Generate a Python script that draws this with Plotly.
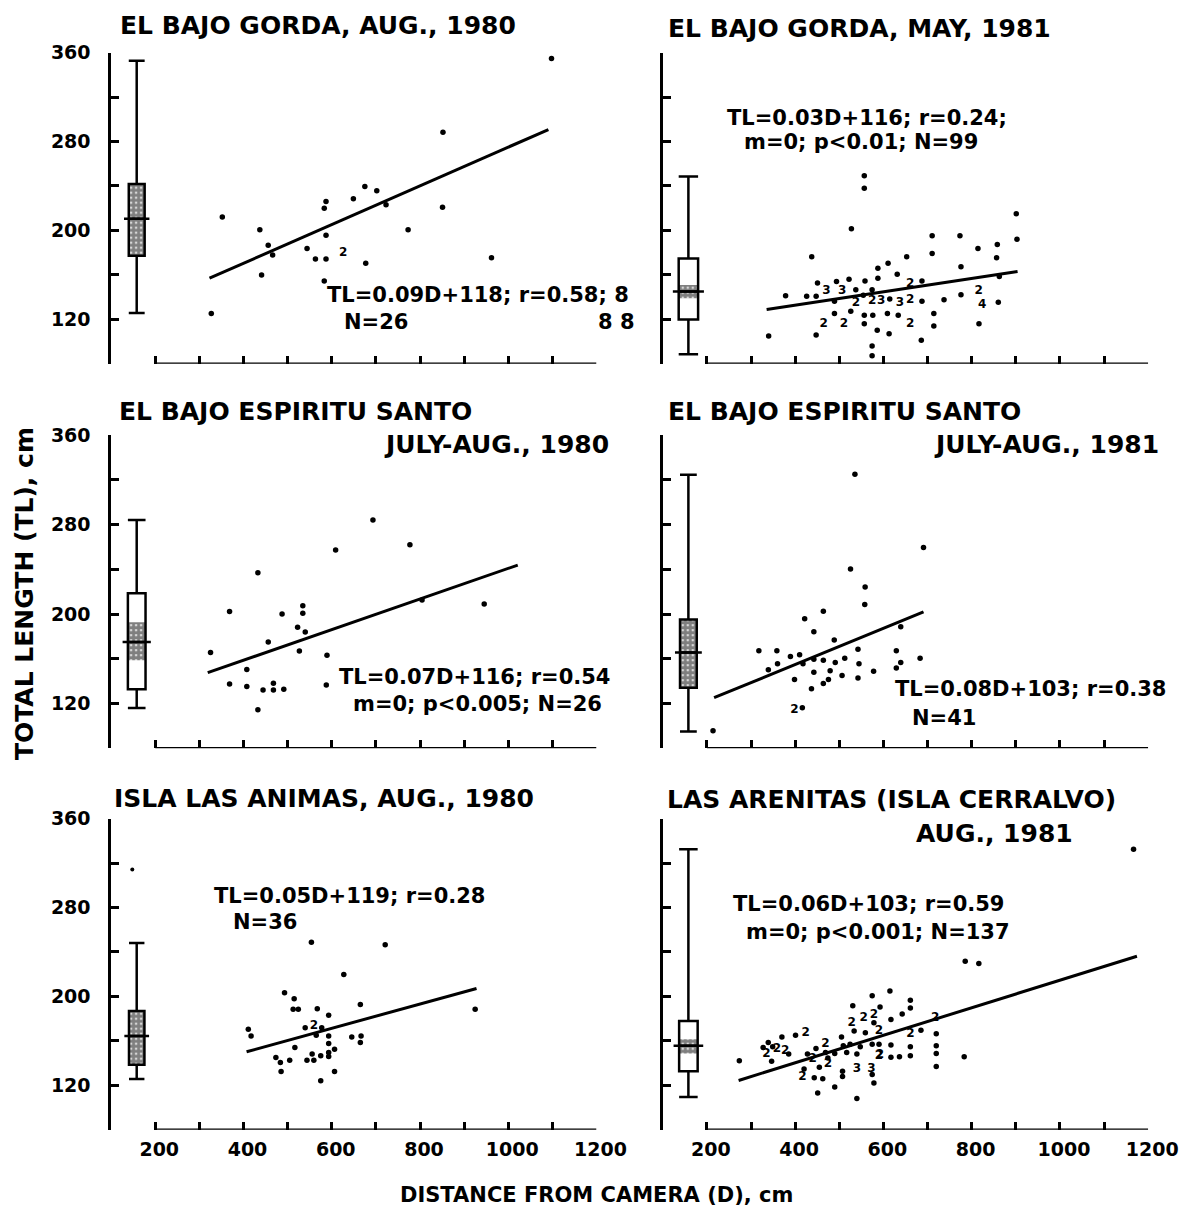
import plotly.graph_objects as go

W, H = 1186, 1218
FONT = "DejaVu Sans"

# ----------------------------------------------------------------- data
x_ticks = [200, 300, 400, 500, 600, 700, 800, 900, 1000, 1100, 1200]
x_ticklabels = ["200", "", "400", "", "600", "", "800", "", "1000", "", "1200"]
y_ticks = [80, 120, 160, 200, 240, 280, 320, 360]
y_ticklabels = ["", "120", "", "200", "", "280", "", "360"]

# Panel 1: El Bajo Gorda, Aug. 1980
p1_x = [1098, 852, 352, 437, 456, 466, 441, 327, 544, 563, 587, 583, 587, 587, 583,
        649, 675, 702, 723, 677, 773, 851, 962]
p1_y = [354.7, 288.4, 212, 200.7, 186.7, 177.8, 160, 125.2, 183.8, 174.3, 174.3, 154.6,
        195.7, 226, 220, 228.4, 239.6, 235.8, 223, 170.4, 200.7, 220.9, 175.5]
p1_mx = [626]
p1_my = [179.3]
p1_mn = ["2"]
p1_fit_x = [323, 1091]
p1_fit_y = [157, 290.8]
p1_box = [125.8, 177.2, 210.5, 241.7, 352.6]   # low whisker, q1, median, q3, high whisker
p1_ci = [177.2, 241.7]
p1_out = []

# Panel 2: El Bajo Gorda, May 1981
p2_x = [556.6, 556.6, 527.4, 437.5, 901, 902.6, 710.4, 710.4, 773.4, 814.2, 858, 856.4,
        775.7, 652.7, 610.5, 587.4, 631.2, 587.4, 558.2, 522, 493.6, 450.6, 862.6, 687.3,
        574.3, 537.4, 378.3, 426, 447.5, 554.4, 614.3, 687.3, 737.3, 775.7, 860.3, 489,
        489, 526, 556.6, 575.9, 609, 633.5, 556.6, 585.9, 612.8, 714.2, 714.2, 816.5,
        339.9, 447.5, 685.8, 574.3, 574.3]
p2_y = [249.2, 237.9, 201.6, 176.4, 215, 192.1, 195.1, 179.3, 195.1, 183.8, 187.3, 175.5,
        167.4, 176.4, 170.4, 166, 160.6, 157, 154.6, 156.1, 154, 152.6, 158.5, 154.6,
        146.6, 146.6, 141.3, 140.7, 140.7, 141.6, 138.3, 136.2, 137.7, 142.2, 135.3, 136.2,
        125.2, 127.3, 123.7, 123.7, 125.2, 123.7, 116, 110.1, 107.1, 125.2, 113.9, 116,
        105, 105.9, 101.2, 96.1, 87.2]
p2_mx = [660.4, 470.6, 506.7, 537.4, 574.3, 595, 637.4, 660.4, 815.7, 824, 464.4, 510.5, 660.4]
p2_my = [151.7, 145.1, 145.1, 134.7, 136.2, 136.2, 134.7, 137.7, 145.1, 132.7, 115.4, 115.4, 115.4]
p2_mn = ["2", "3", "3", "2", "2", "3", "3", "2", "2", "4", "2", "2", "2"]
p2_fit_x = [335.3, 904]
p2_fit_y = [128.8, 163]
p2_box = [88.6, 119.9, 145.1, 174.8, 248.5]
p2_ci = [139, 151]
p2_out = []

# Panel 3: El Bajo Espiritu Santo, July-Aug. 1980
p3_x = [693.3, 432.6, 368.4, 487.4, 534.4, 534.4, 522.6, 539.9, 456.1, 325.3, 526.6, 589.2,
        804.6, 945.5, 407.5, 368.4, 407.5, 444.3, 467.8, 467.8, 491.3, 587.6, 432.6, 608.8, 777.1]
p3_y = [284.2, 237, 202.4, 200.1, 207.5, 200.7, 188.3, 183.9, 175, 165.6, 167, 163.2,
        212.5, 208.9, 150.5, 137.5, 135.2, 132.2, 138.1, 132.2, 132.8, 136.6, 114.5, 257.3, 262]
p3_mx = []
p3_my = []
p3_mn = []
p3_fit_x = [319, 1021.5]
p3_fit_y = [147.6, 243.8]
p3_box = [116, 132.8, 175, 218.7, 284.2]
p3_ci = [158.8, 192.7]
p3_out = []

# Panel 4: El Bajo Espiritu Santo, July-Aug. 1981
p4_x = [535.4, 690.8, 525.4, 558.5, 557.7, 463.8, 421.5, 442.3, 488.5, 639.2, 317.7, 358.5,
        629.2, 389.2, 410, 542.3, 683.1, 339.2, 360, 417.7, 442.3, 463.8, 490.8, 512.3,
        544.6, 639.2, 629.2, 577.7, 442.3, 479.2, 398.5, 506.2, 542.3, 463.8, 436.9, 416.2,
        213.8, 475.4]
p4_y = [325.1, 259.6, 240.4, 224.1, 208.5, 202.6, 195.8, 184.3, 176.9, 188.7, 167.1, 167.1,
        167.1, 162.1, 163.6, 168.6, 160.6, 150.3, 155.6, 155.6, 159.7, 158.6, 156.8, 160.6,
        155.6, 156.8, 151.8, 148.8, 147.9, 149.4, 141.4, 145, 142.9, 137.9, 133.2, 116.3,
        95.7, 141.6]
p4_mx = [398.5]
p4_my = [114.3]
p4_mn = ["2"]
p4_fit_x = [216.2, 690.8]
p4_fit_y = [125.2, 202]
p4_box = [95.1, 134.1, 165.6, 195.2, 324.6]
p4_ci = [134.1, 195.2]
p4_out = []

# Panel 5: Isla Las Animas, Aug. 1980
p5_x = [553.9, 721.1, 627.3, 493, 514.8, 512.5, 524.2, 567.2, 593, 664.8, 539.8, 577.3,
        925, 410.9, 417.2, 564.8, 593, 645.3, 666.4, 664.8, 593, 516.4, 606.3, 593, 555.5,
        575, 593, 473.4, 483.6, 504.7, 543.8, 559.4, 485.2, 606.3, 575]
p5_y = [248.7, 246.6, 219.7, 203.3, 197.9, 188.4, 188.4, 189, 183, 192.8, 171.9, 171.9,
        188.4, 170.5, 164.5, 165.1, 164.5, 163.6, 164.5, 158.5, 157.6, 154, 152.5, 149.6,
        148.1, 146.6, 146, 145.1, 140.6, 142.7, 142.7, 142.7, 132.5, 132.5, 124.2]
p5_mx = [559.4]
p5_my = [173.4]
p5_mn = ["2"]
p5_fit_x = [407, 928.1]
p5_fit_y = [150.2, 207.2]
p5_box = [125.7, 138.5, 164.5, 187, 248.1]
p5_ci = [138.5, 187]
p5_out = [314.3]

# Panel 6: Las Arenitas (Isla Cerralvo), Aug. 1981
p6_x = [1166.8, 785.3, 816.2, 783, 719.7, 719.7, 719.7, 719.7, 614.7, 574.5, 530.5, 592.3,
        661, 661, 642.5, 617, 578.4, 559, 533.6, 505, 685, 661, 661, 617, 636.3, 617,
        574.5, 590, 547.5, 524.4, 509, 516.7, 539.8, 447.1, 468.7, 489.6, 400.8, 369.9,
        349, 339, 327.4, 385.3, 346.6, 273.4, 427.8, 474.1, 420.1, 454.8, 507.3, 443.2,
        462.5, 507.3, 489.6, 578.4, 451, 539.8, 574.5]
p6_y = [332.4, 231.7, 229.6, 145.8, 166.5, 155.6, 148.7, 136.9, 205, 200.6, 191.7, 190.5,
        196.5, 189.6, 184.3, 179.3, 176.3, 167.4, 168.9, 163.5, 169.5, 154.7, 146.7, 156.2,
        145.8, 145.2, 157, 157, 154.7, 157, 155.6, 149.6, 148.1, 153.2, 149.6, 148.7, 165,
        163.5, 154.7, 158.5, 154, 148.1, 141.6, 142.2, 148.1, 144.6, 134.8, 136.3, 132.7,
        126.8, 125.9, 128, 118.5, 122.1, 113.2, 108.1, 129.8]
p6_mx = [717.4, 578.4, 555.2, 528.2, 590, 661, 590, 468.7, 423.9, 358.4, 377.6, 335.1,
         439.4, 474.1, 539.8, 573, 592.3, 416.2]
p6_my = [180.2, 183.7, 180.2, 176.3, 168.9, 165.9, 146.7, 157, 167.4, 152.6, 151.1, 148.1,
         143.7, 139.2, 134.8, 134.8, 147.6, 127.4]
p6_mn = ["2", "2", "2", "2", "2", "2", "2", "2", "2", "2", "2", "2",
         "2", "2", "3", "3", "2", "2"]
p6_fit_x = [271.8, 1174.5]
p6_fit_y = [124.4, 236.2]
p6_box = [109.6, 132.7, 155.6, 177.8, 332.4]
p6_ci = [148.7, 161.5]
p6_out = []

titles = [
    ["EL BAJO GORDA, AUG., 1980"],
    ["EL BAJO GORDA, MAY, 1981"],
    ["EL BAJO ESPIRITU SANTO", "JULY-AUG., 1980"],
    ["EL BAJO ESPIRITU SANTO", "JULY-AUG., 1981"],
    ["ISLA LAS ANIMAS, AUG., 1980"],
    ["LAS ARENITAS (ISLA CERRALVO)", "AUG., 1981"],
]
equations = [
    ["TL=0.09D+118; r=0.58; 8", "N=26", "8 8"],
    ["TL=0.03D+116; r=0.24;", "m=0; p<0.01; N=99"],
    ["TL=0.07D+116; r=0.54", "m=0; p<0.005; N=26"],
    ["TL=0.08D+103; r=0.38", "N=41"],
    ["TL=0.05D+119; r=0.28", "N=36"],
    ["TL=0.06D+103; r=0.59", "m=0; p<0.001; N=137"],
]

# ----------------------------------------------------------------- layout / style
X_RANGE = [100, 1200]
Y_RANGE = [80, 360]
col_px = [(114, 612), (680, 1178)]
row_px = [(42, 356), (428, 744), (815, 1129)]
BOX_X = 158
box_w = [36, 44, 40, 38, 35, 42]

# text anchors in each panel's data units: (x, y, xanchor)
title_pos = [
    [(116, 384, "left")],
    [(108, 382, "left")],
    [(113, 381, "left"), (1232, 352, "right")],
    [(108, 381, "left"), (1228, 352, "right")],
    [(102, 378.5, "left")],
    [(106, 377.5, "left"), (670, 347, "left")],
]
eq_pos = [
    [(584, 142, "left"), (623, 118, "left"), (1292, 118, "right")],
    [(241, 301, "left"), (280, 279.5, "left")],
    [(613, 144, "left"), (644, 120, "left")],
    [(621, 132.6, "left"), (660, 107.5, "left")],
    [(329, 290, "left"), (372, 266.6, "left")],
    [(254, 283, "left"), (285, 258.4, "left")],
]


def xdom(v):
    return (v - X_RANGE[0]) / (X_RANGE[1] - X_RANGE[0])


def ydom(v):
    return (v - Y_RANGE[0]) / (Y_RANGE[1] - Y_RANGE[0])


panels = [
    (p1_x, p1_y, p1_mx, p1_my, p1_mn, p1_fit_x, p1_fit_y, p1_box, p1_ci, p1_out),
    (p2_x, p2_y, p2_mx, p2_my, p2_mn, p2_fit_x, p2_fit_y, p2_box, p2_ci, p2_out),
    (p3_x, p3_y, p3_mx, p3_my, p3_mn, p3_fit_x, p3_fit_y, p3_box, p3_ci, p3_out),
    (p4_x, p4_y, p4_mx, p4_my, p4_mn, p4_fit_x, p4_fit_y, p4_box, p4_ci, p4_out),
    (p5_x, p5_y, p5_mx, p5_my, p5_mn, p5_fit_x, p5_fit_y, p5_box, p5_ci, p5_out),
    (p6_x, p6_y, p6_mx, p6_my, p6_mn, p6_fit_x, p6_fit_y, p6_box, p6_ci, p6_out),
]

fig = go.Figure()
layout = dict(
    width=W, height=H, margin=dict(l=0, r=0, t=0, b=0),
    paper_bgcolor="white", plot_bgcolor="white", showlegend=False,
    font=dict(family=FONT, color="black"), barmode="overlay",
)
shapes, annotations = [], []
tickfont = dict(family=FONT, size=19, color="black", weight="bold")

for i, (px_, py_, mx, my, mn, fx, fy, bq, ci, outl) in enumerate(panels):
    r, c = divmod(i, 2)
    n = i + 1
    xa = "x" if n == 1 else f"x{n}"
    ya = "y" if n == 1 else f"y{n}"
    xkey = "xaxis" if n == 1 else f"xaxis{n}"
    ykey = "yaxis" if n == 1 else f"yaxis{n}"
    x0, x1 = col_px[c]
    yt, yb = row_px[r]
    layout[xkey] = dict(
        domain=[x0 / W, x1 / W], range=X_RANGE, anchor=ya,
        showgrid=False, zeroline=False, showline=False,
        ticks="inside", ticklen=8, tickwidth=2.5, tickcolor="black",
        tickmode="array", tickvals=x_ticks, ticktext=x_ticklabels,
        showticklabels=(r == 2), ticklabelstandoff=6, ticklabelshift=4,
        tickfont=tickfont,
    )
    layout[ykey] = dict(
        domain=[1 - yb / H, 1 - yt / H], range=Y_RANGE, anchor=xa,
        showgrid=False, zeroline=False, showline=True, linecolor="black", linewidth=2.5,
        ticks="inside", ticklen=8, tickwidth=2.5, tickcolor="black",
        tickmode="array", tickvals=y_ticks, ticktext=y_ticklabels,
        showticklabels=(c == 0), ticklabelstandoff=14,
        tickfont=tickfont,
    )
    # detached x-axis line from first to last tick
    shapes.append(dict(type="line", xref=xa, yref=ya, x0=x_ticks[0], x1=x_ticks[-1],
                       y0=Y_RANGE[0], y1=Y_RANGE[0], line=dict(color="black", width=2.5)))

    bw = box_w[i]
    # stippled region (confidence interval of median)
    fig.add_trace(go.Bar(x=[BOX_X], base=[ci[0]], y=[ci[1] - ci[0]], width=bw,
                         marker=dict(color="white", line=dict(width=0),
                                     pattern=dict(shape=".", fgcolor="black", bgcolor="white",
                                                  size=5, solidity=0.8)),
                         xaxis=xa, yaxis=ya, hoverinfo="skip"))
    fig.add_trace(go.Box(x=[BOX_X], lowerfence=[bq[0]], q1=[bq[1]], median=[bq[2]],
                         q3=[bq[3]], upperfence=[bq[4]], width=bw, whiskerwidth=1,
                         fillcolor="rgba(0,0,0,0)", line=dict(color="black", width=2.5),
                         boxpoints=False, xaxis=xa, yaxis=ya))
    fig.add_trace(go.Scatter(x=[BOX_X - 0.8 * bw, BOX_X + 0.8 * bw], y=[bq[2], bq[2]],
                             mode="lines", line=dict(color="black", width=2.5),
                             xaxis=xa, yaxis=ya, hoverinfo="skip"))
    if outl:
        fig.add_trace(go.Scatter(x=[BOX_X - 10] * len(outl), y=outl, mode="markers",
                                 marker=dict(size=4, color="black"), xaxis=xa, yaxis=ya))
    fig.add_trace(go.Scatter(x=fx, y=fy, mode="lines", line=dict(color="black", width=3),
                             xaxis=xa, yaxis=ya, hoverinfo="skip"))
    fig.add_trace(go.Scatter(x=px_, y=py_, mode="markers",
                             marker=dict(size=5.5, color="black"), xaxis=xa, yaxis=ya))
    if mx:
        fig.add_trace(go.Scatter(x=mx, y=my, text=mn, mode="text",
                                 textfont=dict(family=FONT, size=12, color="black",
                                               weight="bold"),
                                 xaxis=xa, yaxis=ya))

    for txt, (tx, ty, anc) in zip(titles[i], title_pos[i]):
        annotations.append(dict(text=txt, x=xdom(tx), y=ydom(ty),
                                xref=f"{xa} domain", yref=f"{ya} domain", xanchor=anc,
                                yanchor="middle", showarrow=False,
                                font=dict(family=FONT, size=25, color="black", weight="bold")))
    for txt, (tx, ty, anc) in zip(equations[i], eq_pos[i]):
        annotations.append(dict(text=txt, x=xdom(tx), y=ydom(ty),
                                xref=f"{xa} domain", yref=f"{ya} domain", xanchor=anc,
                                yanchor="middle", showarrow=False,
                                font=dict(family=FONT, size=21, color="black", weight="bold")))

annotations.append(dict(text="TOTAL LENGTH (TL), cm", x=25 / W, y=1 - 588 / H,
                        xref="paper", yref="paper", textangle=-90, showarrow=False,
                        xanchor="center", yanchor="middle",
                        font=dict(family=FONT, size=25, color="black", weight="bold")))
annotations.append(dict(text="DISTANCE FROM CAMERA (D), cm", x=612 / W, y=1 - 1195 / H,
                        xref="paper", yref="paper", showarrow=False,
                        xanchor="center", yanchor="middle",
                        font=dict(family=FONT, size=21, color="black", weight="bold")))

layout["shapes"] = shapes
layout["annotations"] = annotations
fig.update_layout(**layout)
fig.write_html("out.html")
